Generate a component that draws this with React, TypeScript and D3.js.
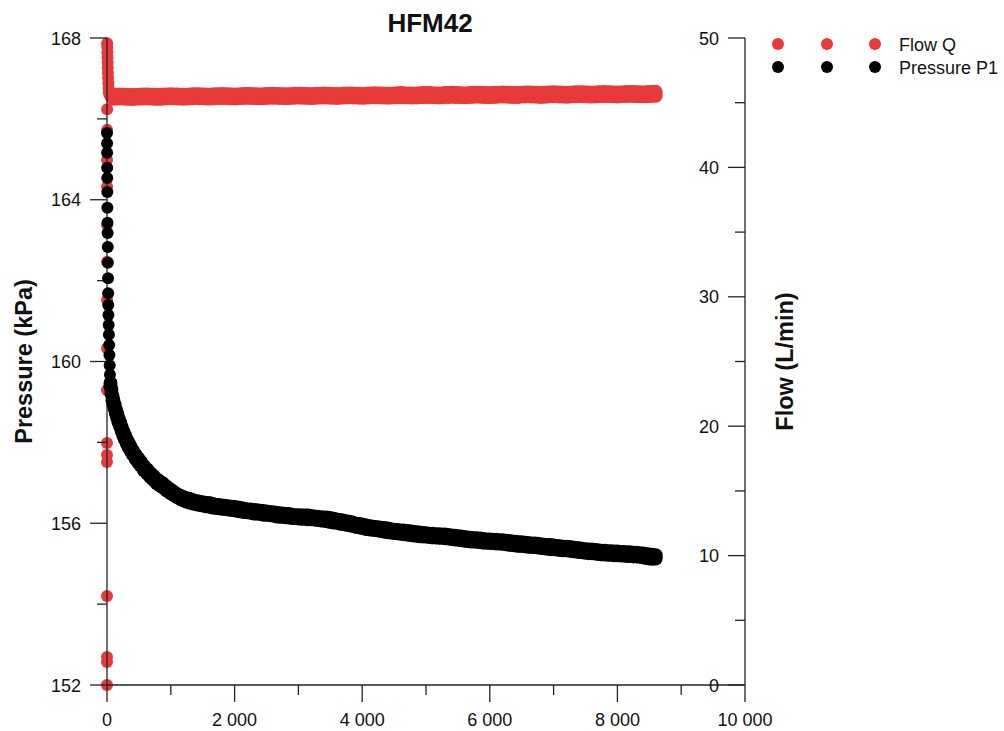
import React from 'react';
import * as d3 from 'd3';

const W = 1004;
const H = 731;

const chartTitle = 'HFM42';
const leftTitle = 'Pressure (kPa)';
const rightTitle = 'Flow (L/min)';
const legendLabels = ['Flow Q', 'Pressure P1'];

const xMajorTicks = [0, 2000, 4000, 6000, 8000, 10000];
const xMinorTicks = [1000, 3000, 5000, 7000, 9000];
const pMajorTicks = [152, 156, 160, 164, 168];
const pMinorTicks = [154, 158, 162, 166];
const qMajorTicks = [0, 10, 20, 30, 40, 50];
const qMinorTicks = [5, 15, 25, 35, 45];

// Flow Q start-up readings: [time (s), flow (L/min)]
const flowStart: [number, number][] = [
  [0, 0], [0, 1.78], [0, 2.16], [0, 6.88], [0, 17.23], [0, 17.77], [0, 18.7], [0, 22.8],
  [1, 26.0], [1, 29.75], [1, 32.7], [1, 35.55], [1, 38.5], [1, 40.57], [2, 42.9], [2, 44.5],
  [2, 49.6], [4, 49.3], [6, 48.9], [8, 48.5], [10, 48.1], [12, 47.7], [15, 47.3], [18, 46.9],
  [22, 46.5], [26, 46.1], [30, 45.8], [40, 45.6], [60, 45.45],
];

// Flow Q scatter band: [time (s), low reading, high reading]
const flowBand: [number, number, number][] = [
  [100, 45.31, 45.61], [150, 45.32, 45.62], [200, 45.33, 45.63], [250, 45.32, 45.62], [300, 45.31, 45.61], [350, 45.30, 45.60], [400, 45.29, 45.59], [450, 45.30, 45.60],
  [500, 45.32, 45.62], [550, 45.33, 45.63], [600, 45.34, 45.64], [650, 45.33, 45.63], [700, 45.32, 45.62], [750, 45.31, 45.61], [800, 45.30, 45.60], [850, 45.31, 45.61],
  [900, 45.33, 45.63], [950, 45.34, 45.64], [1000, 45.35, 45.65], [1050, 45.34, 45.64], [1100, 45.33, 45.63], [1150, 45.32, 45.62], [1200, 45.31, 45.61], [1250, 45.32, 45.62],
  [1300, 45.34, 45.64], [1350, 45.35, 45.65], [1400, 45.36, 45.66], [1450, 45.35, 45.65], [1500, 45.34, 45.64], [1550, 45.33, 45.63], [1600, 45.32, 45.62], [1650, 45.33, 45.63],
  [1700, 45.35, 45.65], [1750, 45.36, 45.66], [1800, 45.37, 45.67], [1850, 45.36, 45.66], [1900, 45.35, 45.65], [1950, 45.34, 45.64], [2000, 45.33, 45.63], [2050, 45.34, 45.64],
  [2100, 45.36, 45.66], [2150, 45.37, 45.67], [2200, 45.38, 45.68], [2250, 45.37, 45.67], [2300, 45.36, 45.66], [2350, 45.35, 45.65], [2400, 45.34, 45.64], [2450, 45.35, 45.65],
  [2500, 45.37, 45.67], [2550, 45.38, 45.68], [2600, 45.39, 45.69], [2650, 45.38, 45.68], [2700, 45.37, 45.67], [2750, 45.36, 45.66], [2800, 45.35, 45.65], [2850, 45.36, 45.66],
  [2900, 45.38, 45.68], [2950, 45.39, 45.69], [3000, 45.40, 45.70], [3050, 45.39, 45.69], [3100, 45.38, 45.68], [3150, 45.37, 45.67], [3200, 45.36, 45.66], [3250, 45.37, 45.67],
  [3300, 45.39, 45.69], [3350, 45.40, 45.70], [3400, 45.41, 45.71], [3450, 45.40, 45.70], [3500, 45.39, 45.69], [3550, 45.38, 45.68], [3600, 45.37, 45.67], [3650, 45.38, 45.68],
  [3700, 45.40, 45.70], [3750, 45.41, 45.71], [3800, 45.42, 45.72], [3850, 45.41, 45.71], [3900, 45.40, 45.70], [3950, 45.39, 45.69], [4000, 45.38, 45.68], [4050, 45.39, 45.69],
  [4100, 45.41, 45.71], [4150, 45.42, 45.72], [4200, 45.43, 45.73], [4250, 45.42, 45.72], [4300, 45.41, 45.71], [4350, 45.40, 45.70], [4400, 45.39, 45.69], [4450, 45.40, 45.70],
  [4500, 45.42, 45.72], [4550, 45.43, 45.73], [4600, 45.44, 45.74], [4650, 45.43, 45.73], [4700, 45.42, 45.72], [4750, 45.41, 45.71], [4800, 45.40, 45.70], [4850, 45.41, 45.71],
  [4900, 45.43, 45.73], [4950, 45.44, 45.74], [5000, 45.45, 45.75], [5050, 45.44, 45.74], [5100, 45.43, 45.73], [5150, 45.42, 45.72], [5200, 45.41, 45.71], [5250, 45.42, 45.72],
  [5300, 45.44, 45.74], [5350, 45.45, 45.75], [5400, 45.46, 45.76], [5450, 45.45, 45.75], [5500, 45.44, 45.74], [5550, 45.43, 45.73], [5600, 45.42, 45.72], [5650, 45.43, 45.73],
  [5700, 45.45, 45.75], [5750, 45.46, 45.76], [5800, 45.47, 45.77], [5850, 45.46, 45.76], [5900, 45.45, 45.75], [5950, 45.44, 45.74], [6000, 45.43, 45.73], [6050, 45.44, 45.74],
  [6100, 45.46, 45.76], [6150, 45.47, 45.77], [6200, 45.48, 45.78], [6250, 45.47, 45.77], [6300, 45.46, 45.76], [6350, 45.45, 45.75], [6400, 45.44, 45.74], [6450, 45.45, 45.75],
  [6500, 45.47, 45.77], [6550, 45.48, 45.78], [6600, 45.49, 45.79], [6650, 45.48, 45.78], [6700, 45.47, 45.77], [6750, 45.46, 45.76], [6800, 45.45, 45.75], [6850, 45.46, 45.76],
  [6900, 45.48, 45.78], [6950, 45.49, 45.79], [7000, 45.50, 45.80], [7050, 45.49, 45.79], [7100, 45.48, 45.78], [7150, 45.47, 45.77], [7200, 45.46, 45.76], [7250, 45.47, 45.77],
  [7300, 45.49, 45.79], [7350, 45.50, 45.80], [7400, 45.51, 45.81], [7450, 45.50, 45.80], [7500, 45.49, 45.79], [7550, 45.48, 45.78], [7600, 45.47, 45.77], [7650, 45.48, 45.78],
  [7700, 45.50, 45.80], [7750, 45.51, 45.81], [7800, 45.52, 45.82], [7850, 45.51, 45.81], [7900, 45.50, 45.80], [7950, 45.49, 45.79], [8000, 45.48, 45.78], [8050, 45.49, 45.79],
  [8100, 45.51, 45.81], [8150, 45.52, 45.82], [8200, 45.53, 45.83], [8250, 45.52, 45.82], [8300, 45.51, 45.81], [8350, 45.50, 45.80], [8400, 45.49, 45.79], [8450, 45.50, 45.80],
  [8500, 45.52, 45.82], [8550, 45.53, 45.83], [8600, 45.54, 45.84],
];

// Pressure P1 initial drop: [time (s), pressure (kPa)]
const pressureStart: [number, number][] = [
  [0, 165.65], [1, 165.40], [2, 165.16], [3, 164.79], [4, 164.54], [5, 164.19], [6, 163.80], [8, 163.43],
  [10, 163.18], [12, 162.83], [14, 162.44], [16, 162.06], [18, 161.69], [20, 161.40], [23, 161.15], [26, 160.90],
  [30, 160.66], [34, 160.41], [38, 160.16], [42, 159.91], [46, 159.67],
];

// Pressure P1 scatter band: [time (s), low reading, high reading]
const pressureBand: [number, number, number][] = [
  [55, 159.38, 159.47], [70, 159.20, 159.30], [85, 159.05, 159.15], [100, 158.95, 159.05], [120, 158.83, 158.93], [140, 158.71, 158.81],
  [160, 158.61, 158.71], [180, 158.50, 158.60], [205, 158.39, 158.49], [230, 158.28, 158.38], [255, 158.17, 158.27], [280, 158.08, 158.18],
  [310, 157.97, 158.07], [340, 157.88, 157.98], [370, 157.79, 157.89], [410, 157.69, 157.79], [450, 157.59, 157.69], [490, 157.50, 157.60],
  [530, 157.42, 157.52], [580, 157.31, 157.41], [630, 157.23, 157.33], [680, 157.14, 157.24], [730, 157.07, 157.17], [780, 156.99, 157.09],
  [830, 156.93, 157.03], [880, 156.88, 156.98], [940, 156.80, 156.90],
  [1000, 156.74, 156.83], [1050, 156.69, 156.77], [1100, 156.64, 156.72], [1150, 156.60, 156.68], [1200, 156.56, 156.64], [1250, 156.53, 156.62],
  [1300, 156.51, 156.60], [1350, 156.49, 156.57], [1400, 156.47, 156.55], [1450, 156.45, 156.53], [1500, 156.44, 156.52], [1550, 156.42, 156.50],
  [1600, 156.41, 156.50], [1650, 156.39, 156.48], [1700, 156.38, 156.46], [1750, 156.37, 156.45], [1800, 156.36, 156.44], [1850, 156.35, 156.43],
  [1900, 156.34, 156.42], [1950, 156.33, 156.41], [2000, 156.32, 156.40], [2050, 156.30, 156.39], [2100, 156.29, 156.38], [2150, 156.28, 156.36],
  [2200, 156.27, 156.34], [2250, 156.26, 156.34], [2300, 156.24, 156.33], [2350, 156.24, 156.32], [2400, 156.23, 156.31], [2450, 156.21, 156.30],
  [2500, 156.21, 156.29], [2550, 156.20, 156.28], [2600, 156.19, 156.27], [2650, 156.17, 156.26], [2700, 156.16, 156.25], [2750, 156.16, 156.24],
  [2800, 156.15, 156.23], [2850, 156.14, 156.23], [2900, 156.13, 156.21], [2950, 156.13, 156.20], [3000, 156.12, 156.20], [3050, 156.11, 156.19],
  [3100, 156.11, 156.19], [3150, 156.10, 156.19], [3200, 156.10, 156.18], [3250, 156.09, 156.17], [3300, 156.08, 156.16], [3350, 156.07, 156.15],
  [3400, 156.06, 156.14], [3450, 156.05, 156.14], [3500, 156.03, 156.13], [3550, 156.02, 156.11], [3600, 156.01, 156.09], [3650, 155.99, 156.08],
  [3700, 155.98, 156.07], [3750, 155.96, 156.05], [3800, 155.95, 156.04], [3850, 155.93, 156.02], [3900, 155.91, 155.99], [3950, 155.90, 155.98],
  [4000, 155.88, 155.97], [4050, 155.86, 155.95], [4100, 155.85, 155.93], [4150, 155.84, 155.92], [4200, 155.83, 155.91], [4250, 155.82, 155.90],
  [4300, 155.81, 155.89], [4350, 155.79, 155.88], [4400, 155.78, 155.87], [4450, 155.77, 155.85], [4500, 155.76, 155.84], [4550, 155.75, 155.83],
  [4600, 155.74, 155.82], [4650, 155.73, 155.82], [4700, 155.72, 155.81], [4750, 155.71, 155.80], [4800, 155.70, 155.79], [4850, 155.69, 155.78],
  [4900, 155.68, 155.77], [4950, 155.67, 155.76], [5000, 155.67, 155.75], [5050, 155.66, 155.74], [5100, 155.65, 155.74], [5150, 155.65, 155.73],
  [5200, 155.64, 155.73], [5250, 155.64, 155.72], [5300, 155.63, 155.72], [5350, 155.62, 155.71], [5400, 155.61, 155.70], [5450, 155.60, 155.69],
  [5500, 155.59, 155.68], [5550, 155.58, 155.67], [5600, 155.57, 155.66], [5650, 155.56, 155.65], [5700, 155.55, 155.64], [5750, 155.55, 155.63],
  [5800, 155.54, 155.63], [5850, 155.53, 155.62], [5900, 155.52, 155.61], [5950, 155.52, 155.60], [6000, 155.51, 155.60], [6050, 155.51, 155.59],
  [6100, 155.50, 155.59], [6150, 155.50, 155.58], [6200, 155.49, 155.58], [6250, 155.48, 155.57], [6300, 155.47, 155.56], [6350, 155.46, 155.55],
  [6400, 155.45, 155.54], [6450, 155.44, 155.53], [6500, 155.44, 155.53], [6550, 155.43, 155.52], [6600, 155.42, 155.51], [6650, 155.41, 155.50],
  [6700, 155.41, 155.50], [6750, 155.40, 155.49], [6800, 155.39, 155.48], [6850, 155.38, 155.47], [6900, 155.37, 155.46], [6950, 155.36, 155.46],
  [7000, 155.36, 155.45], [7050, 155.35, 155.44], [7100, 155.34, 155.43], [7150, 155.33, 155.42], [7200, 155.33, 155.42], [7250, 155.32, 155.41],
  [7300, 155.31, 155.40], [7350, 155.30, 155.39], [7400, 155.29, 155.38], [7450, 155.28, 155.37], [7500, 155.27, 155.36], [7550, 155.26, 155.35],
  [7600, 155.26, 155.35], [7650, 155.25, 155.34], [7700, 155.24, 155.33], [7750, 155.23, 155.32], [7800, 155.23, 155.32], [7850, 155.22, 155.31],
  [7900, 155.22, 155.31], [7950, 155.21, 155.30], [8000, 155.21, 155.30], [8050, 155.20, 155.29], [8100, 155.20, 155.29], [8150, 155.19, 155.28],
  [8200, 155.19, 155.28], [8250, 155.18, 155.27], [8300, 155.18, 155.27], [8350, 155.17, 155.26], [8400, 155.16, 155.25], [8450, 155.14, 155.24],
  [8500, 155.13, 155.23], [8550, 155.12, 155.22], [8600, 155.13, 155.21],
];

const RED = '#e83a3b';
const BLACK = '#000000';
const AXIS = '#222222';
const FONT = '"Liberation Sans", Arial, Helvetica, sans-serif';

export default function App() {
  const x = d3.scaleLinear().domain([0, 10000]).range([107, 745]);
  const yP = d3.scaleLinear().domain([152, 168]).range([685, 38]);
  const yQ = d3.scaleLinear().domain([0, 50]).range([685, 38]);
  const fmt = d3
    .formatLocale({ decimal: '.', thousands: ' ', grouping: [3], currency: ['', ''] })
    .format(',');

  const x0 = x(0);
  const x1 = x(10000);
  const yb = yP(152);
  const yt = yP(168);
  const rStart = 6;
  const rBand = 7;
  const major = 17;
  const minor = 10;

  const flowBandDots: [number, number][] = flowBand.flatMap(
    ([t, lo, hi]) => [[t, lo], [t, hi]] as [number, number][]
  );
  const pressureBandDots: [number, number][] = pressureBand.flatMap(
    ([t, lo, hi]) => [[t, lo], [t, hi]] as [number, number][]
  );

  return (
    <svg
      width={W}
      height={H}
      style={{ position: 'absolute', left: 0, top: 0, background: '#fff' }}
      fontFamily={FONT}
    >
      <rect x={0} y={0} width={W} height={H} fill="#fff" />
      {/* Flow points */}
      <g fill={RED}>
        {flowStart.map(([t, q], i) => (
          <circle key={'qs' + i} cx={x(t)} cy={yQ(q)} r={rStart} />
        ))}
        {flowBandDots.map(([t, q], i) => (
          <circle key={'qb' + i} cx={x(t)} cy={yQ(q)} r={rBand} />
        ))}
      </g>

      {/* Axes */}
      <g stroke={AXIS} strokeWidth={1.3} fill="none">
        <line x1={x0} y1={yt} x2={x0} y2={yb} />
        <line x1={x1} y1={yt} x2={x1} y2={yb} />
        <line x1={x0} y1={yb} x2={x1} y2={yb} />
        {xMajorTicks.map((v) => (
          <line key={'xm' + v} x1={x(v)} y1={yb} x2={x(v)} y2={yb + major} />
        ))}
        {xMinorTicks.map((v) => (
          <line key={'xn' + v} x1={x(v)} y1={yb} x2={x(v)} y2={yb + minor} />
        ))}
        {pMajorTicks.map((v) => (
          <line key={'pm' + v} x1={x0 - major} y1={yP(v)} x2={x0} y2={yP(v)} />
        ))}
        {pMinorTicks.map((v) => (
          <line key={'pn' + v} x1={x0 - minor} y1={yP(v)} x2={x0} y2={yP(v)} />
        ))}
        {qMajorTicks.map((v) => (
          <line key={'qm' + v} x1={x1 - major} y1={yQ(v)} x2={x1} y2={yQ(v)} />
        ))}
        {qMinorTicks.map((v) => (
          <line key={'qn' + v} x1={x1 - minor} y1={yQ(v)} x2={x1} y2={yQ(v)} />
        ))}
      </g>

      {/* Pressure points */}
      <g fill={BLACK}>
        {pressureStart.map(([t, p], i) => (
          <circle key={'ps' + i} cx={x(t)} cy={yP(p)} r={rStart} />
        ))}
        {pressureBandDots.map(([t, p], i) => (
          <circle key={'pb' + i} cx={x(t)} cy={yP(p)} r={rBand} />
        ))}
      </g>

      {/* Tick labels */}
      <g fontSize={18} fill="#111">
        {xMajorTicks.map((v) => (
          <text key={'xl' + v} x={x(v)} y={yb + 41} textAnchor="middle">
            {fmt(v)}
          </text>
        ))}
        {pMajorTicks.map((v) => (
          <text key={'pl' + v} x={x0 - 26} y={yP(v) + 6.5} textAnchor="end">
            {v}
          </text>
        ))}
        {qMajorTicks.map((v) => (
          <text key={'ql' + v} x={x1 - 26} y={yQ(v) + 6.5} textAnchor="end">
            {v}
          </text>
        ))}
      </g>

      {/* Titles */}
      <text x={430} y={32} textAnchor="middle" fontSize={26} fontWeight="bold" fill="#111">
        {chartTitle}
      </text>
      <text
        transform={`translate(32,${(yt + yb) / 2}) rotate(-90)`}
        textAnchor="middle"
        fontSize={23.5}
        fontWeight="bold"
        fill="#111"
      >
        {leftTitle}
      </text>
      <text
        transform={`translate(793,${(yt + yb) / 2}) rotate(-90)`}
        textAnchor="middle"
        fontSize={23.5}
        fontWeight="bold"
        fill="#111"
      >
        {rightTitle}
      </text>

      {/* Legend */}
      <g>
        {[RED, BLACK].map((c, i) => (
          <g key={'lg' + i}>
            {[778, 827, 875].map((cx) => (
              <circle key={cx} cx={cx} cy={44 + i * 23} r={6} fill={c} />
            ))}
            <text x={899} y={50.5 + i * 23} fontSize={18} fill="#111">
              {legendLabels[i]}
            </text>
          </g>
        ))}
      </g>
    </svg>
  );
}
